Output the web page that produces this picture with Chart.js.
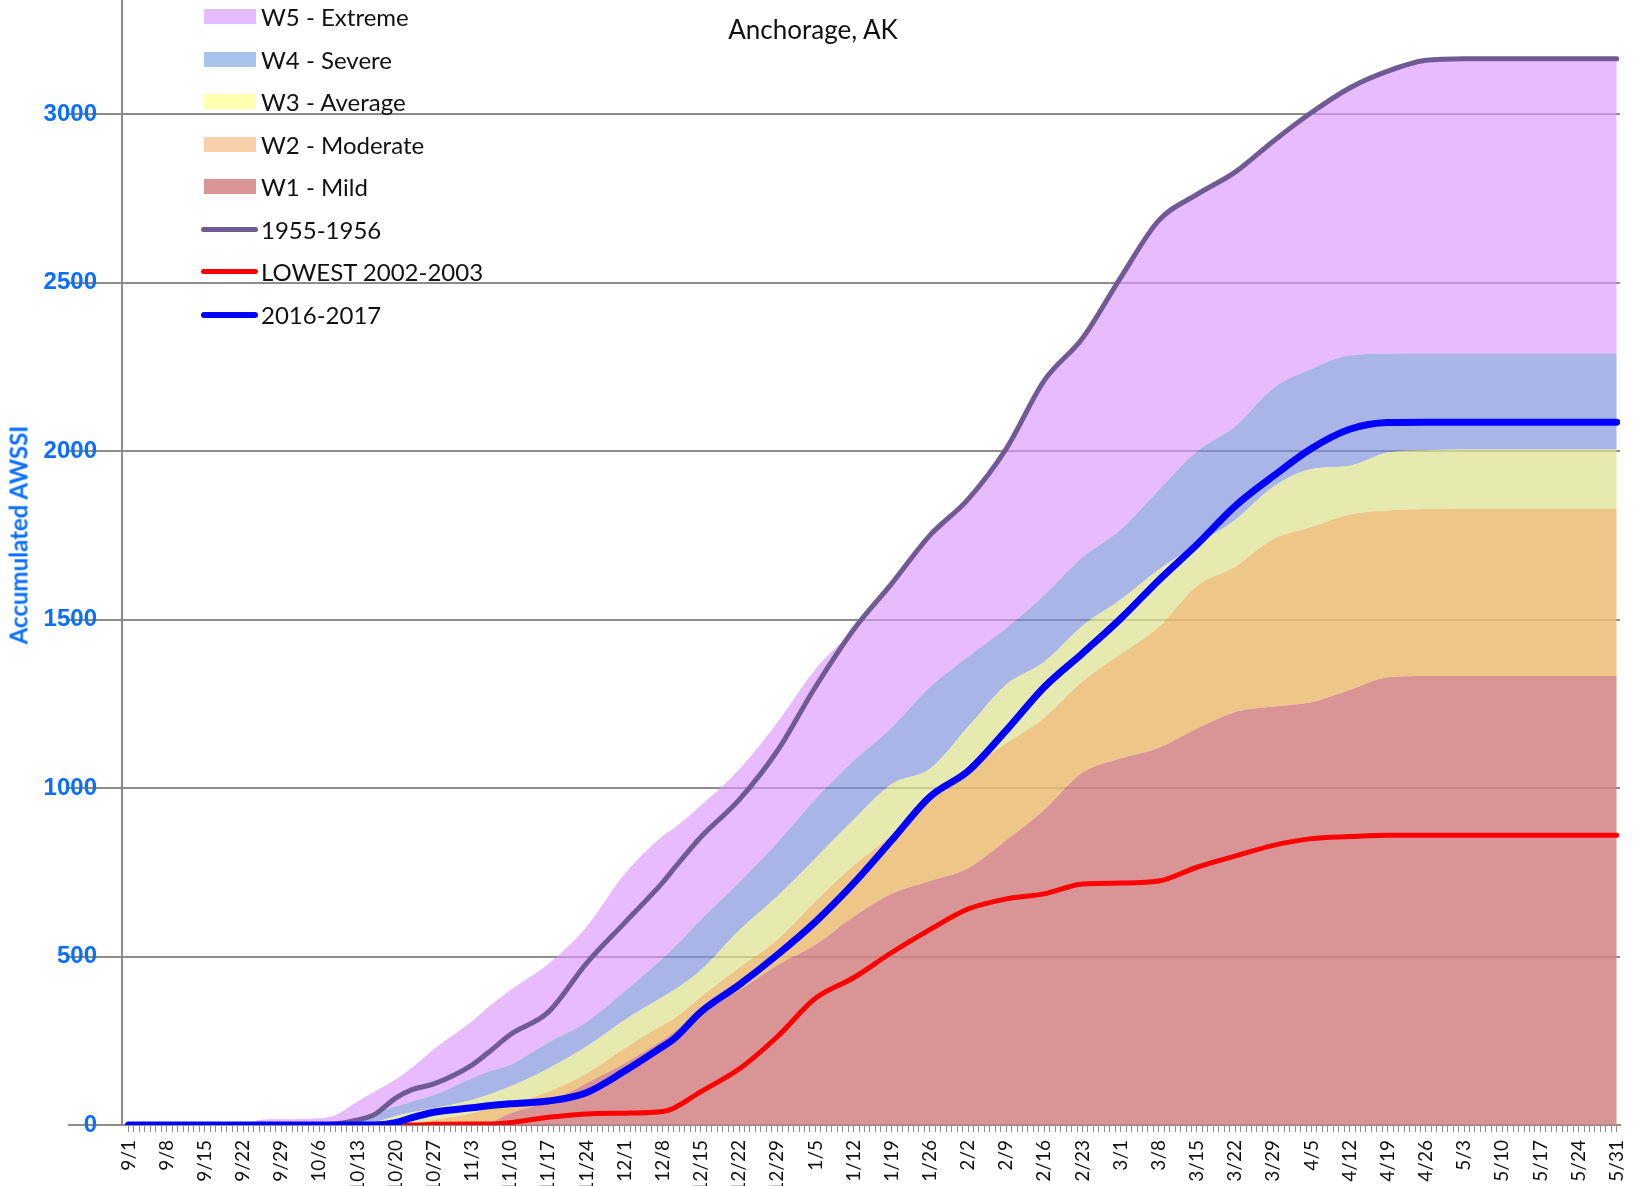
<!DOCTYPE html>
<html>
<head>
<meta charset="utf-8">
<title>Anchorage, AK - Accumulated AWSSI</title>
<script src="https://cdn.jsdelivr.net/npm/chart.js@4.4.1/dist/chart.umd.min.js"></script>
<style>
    body { margin: 0; background: #fff; }
    #wrap { position: relative; width: 1637px; height: 1186px; overflow: hidden; }
    #awssi { position: absolute; left: 0; top: 0; }
    .title { position: absolute; left: 813px; top: 29px; transform: translate(-50%, -50%); font-family: Lato, sans-serif; font-size: 26px; color: #111; white-space: nowrap; }
    .ytitle { position: absolute; left: 18px; top: 535px; transform: translate(-50%, -50%) rotate(-90deg); font-family: Lato, sans-serif; font-weight: bold; font-size: 24px; color: #0a6eff; white-space: nowrap; }
    .item { position: absolute; left: 200px; height: 30px; line-height: 30px; font-family: Lato, sans-serif; font-size: 24px; color: #111; white-space: nowrap; }
    .item span.txt { position: absolute; left: 61px; top: 0; }
    .box { position: absolute; left: 4px; top: 7px; width: 52px; height: 15px; }
    .line { position: absolute; left: 1px; top: 12px; width: 57px; height: 5px; border-radius: 3px; }
</style>
</head>
<body>
<div id="wrap">
    <canvas id="awssi" width="1637" height="1186"></canvas>
    <div class="title">Anchorage, AK</div>
    <div class="ytitle">Accumulated AWSSI</div>

    <div class="item" style="top:2px"><span class="box" style="background:#e6bbff"></span><span class="txt">W5 - Extreme</span></div>
    <div class="item" style="top:45px"><span class="box" style="background:#a9c3eb"></span><span class="txt">W4 - Severe</span></div>
    <div class="item" style="top:87px"><span class="box" style="background:#ffffb0"></span><span class="txt">W3 - Average</span></div>
    <div class="item" style="top:130px"><span class="box" style="background:#fad0ab"></span><span class="txt">W2 - Moderate</span></div>
    <div class="item" style="top:172px"><span class="box" style="background:#d99594"></span><span class="txt">W1 - Mild</span></div>
    <div class="item" style="top:215px"><span class="line" style="background:#705a94"></span><span class="txt">1955-1956</span></div>
    <div class="item" style="top:257px"><span class="line" style="background:#ff0000"></span><span class="txt">LOWEST 2002-2003</span></div>
    <div class="item" style="top:300px"><span class="line" style="background:#0000ff;height:6px"></span><span class="txt">2016-2017</span></div>
</div>

<script>
// day index from 9/1 (0) to 5/31 (273), values at these days
const days = [0, 7, 14, 21, 24, 28, 35, 38, 42, 45, 49, 52, 56, 63, 66, 70, 77, 84, 91, 98, 100, 105, 112, 119, 126, 133, 140, 147, 154, 161, 168, 175, 182, 189, 196, 203, 210, 217, 224, 231, 238, 245, 252, 259, 266, 273];

const tickLabels = ["9/1", "9/8", "9/15", "9/22", "9/29", "10/6", "10/13", "10/20", "10/27", "11/3", "11/10", "11/17", "11/24", "12/1", "12/8", "12/15", "12/22", "12/29", "1/5", "1/12", "1/19", "1/26", "2/2", "2/9", "2/16", "2/23", "3/1", "3/8", "3/15", "3/22", "3/29", "4/5", "4/12", "4/19", "4/26", "5/3", "5/10", "5/17", "5/24", "5/31"];
const yTicks = [0, 500, 1000, 1500, 2000, 2500, 3000];

const w1Mild = [0, 0, 0, 0, 0, 0, 0, 0, 0, 0, 0, 0, 0, 0, 5, 35, 69, 124, 183, 252, 275, 336, 400, 474, 535, 618, 686, 724, 762, 845, 936, 1046, 1088, 1120, 1177, 1226, 1242, 1255, 1291, 1329, 1333, 1333, 1333, 1333, 1333, 1333];
const w2Moderate = [0, 0, 0, 0, 0, 0, 0, 0, 0, 0, 0, 5, 15, 35, 48, 64, 99, 153, 228, 297, 315, 381, 467, 550, 664, 770, 861, 974, 1057, 1133, 1209, 1316, 1397, 1478, 1600, 1657, 1739, 1775, 1812, 1824, 1828, 1830, 1830, 1830, 1830, 1830];
const w3Average = [0, 0, 0, 0, 0, 0, 0, 0, 0, 8, 27, 38, 50, 74, 90, 114, 168, 233, 312, 381, 400, 460, 578, 679, 792, 906, 1012, 1057, 1182, 1307, 1375, 1482, 1560, 1649, 1723, 1796, 1894, 1947, 1957, 1996, 2003, 2005, 2005, 2005, 2005, 2005];
const w4Severe = [0, 0, 0, 0, 0, 0, 0, 5, 20, 35, 55, 70, 89, 139, 158, 178, 245, 305, 396, 495, 525, 610, 720, 838, 967, 1080, 1179, 1300, 1390, 1474, 1572, 1685, 1767, 1885, 1999, 2073, 2187, 2244, 2284, 2289, 2290, 2290, 2290, 2290, 2290, 2290];
const w5Extreme = [0, 0, 0, 0, 15, 17, 20, 30, 70, 98, 135, 170, 225, 308, 350, 400, 478, 588, 745, 858, 880, 948, 1055, 1194, 1353, 1470, 1607, 1750, 1857, 2007, 2210, 2335, 2515, 2685, 2762, 2828, 2920, 3005, 3078, 3128, 3160, 3165, 3165, 3165, 3165, 3165];

const season1955 = [0, 0, 0, 0, 0, 0, 0, 3, 15, 30, 80, 105, 122, 178, 215, 268, 335, 480, 600, 720, 760, 855, 965, 1110, 1300, 1470, 1607, 1750, 1857, 2007, 2210, 2335, 2515, 2685, 2762, 2828, 2920, 3005, 3078, 3128, 3160, 3165, 3165, 3165, 3165, 3165];
const lowest2002 = [0, 0, 0, 0, 0, 0, 0, 0, 0, 0, 0, 0, 2, 3, 3, 7, 23, 33, 35, 40, 50, 99, 166, 262, 376, 437, 512, 580, 641, 671, 686, 715, 718, 724, 765, 798, 830, 850, 856, 860, 860, 860, 860, 860, 860, 860];
const season2016 = [0, 0, 0, 0, 0, 0, 0, 0, 0, 0, 7, 22, 38, 51, 57, 63, 71, 96, 160, 233, 255, 336, 416, 505, 603, 717, 845, 974, 1050, 1171, 1300, 1400, 1503, 1617, 1723, 1837, 1926, 2008, 2065, 2085, 2086, 2086, 2086, 2086, 2086, 2086];

const dayCount = 274;
const gridGray = "#8c8c8c";

function toPoints(values) {
    return values.map((v, i) => ({ x: days[i], y: v }));
}

function band(values, color, fillTo) {
    return {
        data: toPoints(values),
        backgroundColor: color,
        borderWidth: 0,
        fill: fillTo,
        order: 10,
    };
}

function seasonLine(values, color, width, order) {
    return {
        data: toPoints(values),
        borderColor: color,
        borderWidth: width,
        borderCapStyle: "round",
        borderJoinStyle: "round",
        fill: false,
        order: order,
    };
}

const ctx = document.getElementById("awssi").getContext("2d");

const awssiChart = new Chart(ctx, {
    type: "line",
    data: {
        datasets: [
            band(w1Mild, "rgba(210,130,130,0.85)", "origin"),
            band(w2Moderate, "rgba(235,188,115,0.85)", "-1"),
            band(w3Average, "rgba(222,227,147,0.75)", "-1"),
            band(w4Severe, "rgba(121,141,217,0.65)", "-1"),
            band(w5Extreme, "rgba(218,150,250,0.65)", "-1"),
            seasonLine(season1955, "#705a94", 5, 2),
            seasonLine(lowest2002, "#ff0000", 5, 1),
            seasonLine(season2016, "#0000ff", 7, 0),
        ],
    },
    options: {
        responsive: false,
        animation: false,
        devicePixelRatio: 1,
        layout: { padding: { left: 0, right: 17, top: 0, bottom: 0 } },
        plugins: {
            legend: { display: false },
            tooltip: { enabled: false },
            filler: { drawTime: "beforeDatasetsDraw" },
        },
        elements: {
            point: { radius: 0 },
            line: { cubicInterpolationMode: "monotone" },
        },
        scales: {
            x: {
                type: "linear",
                min: -1.2,
                max: 273.6,
                afterBuildTicks: (scale) => {
                    scale.ticks = Array.from({ length: dayCount }, (_, i) => ({ value: i }));
                },
                afterFit: (scale) => {
                    scale.height = 61;
                    scale.paddingLeft = 0;
                    scale.paddingRight = 0;
                },
                grid: { drawOnChartArea: false, drawTicks: true, tickLength: 7, color: gridGray, lineWidth: 1 },
                border: { color: gridGray, width: 2 },
                ticks: {
                    autoSkip: false,
                    minRotation: 90,
                    maxRotation: 90,
                    padding: 8,
                    color: "#111",
                    font: { family: "Lato", size: 19 },
                    callback: (value) => (value % 7 === 0 ? tickLabels[value / 7] : ""),
                },
            },
            y: {
                min: 0,
                max: 3339,
                afterBuildTicks: (scale) => {
                    scale.ticks = yTicks.map((v) => ({ value: v }));
                },
                afterFit: (scale) => {
                    scale.width = 122;
                    scale.paddingTop = 0;
                    scale.paddingBottom = 0;
                },
                grid: { color: gridGray, lineWidth: 2, tickLength: 54 },
                border: { color: gridGray, width: 2 },
                ticks: {
                    autoSkip: false,
                    padding: -29,
                    color: "#0a6eff",
                    font: { family: "Liberation Sans", size: 24, weight: "bold" },
                    callback: (value) => String(value),
                },
            },
        },
    },
});
</script>
</body>
</html>
